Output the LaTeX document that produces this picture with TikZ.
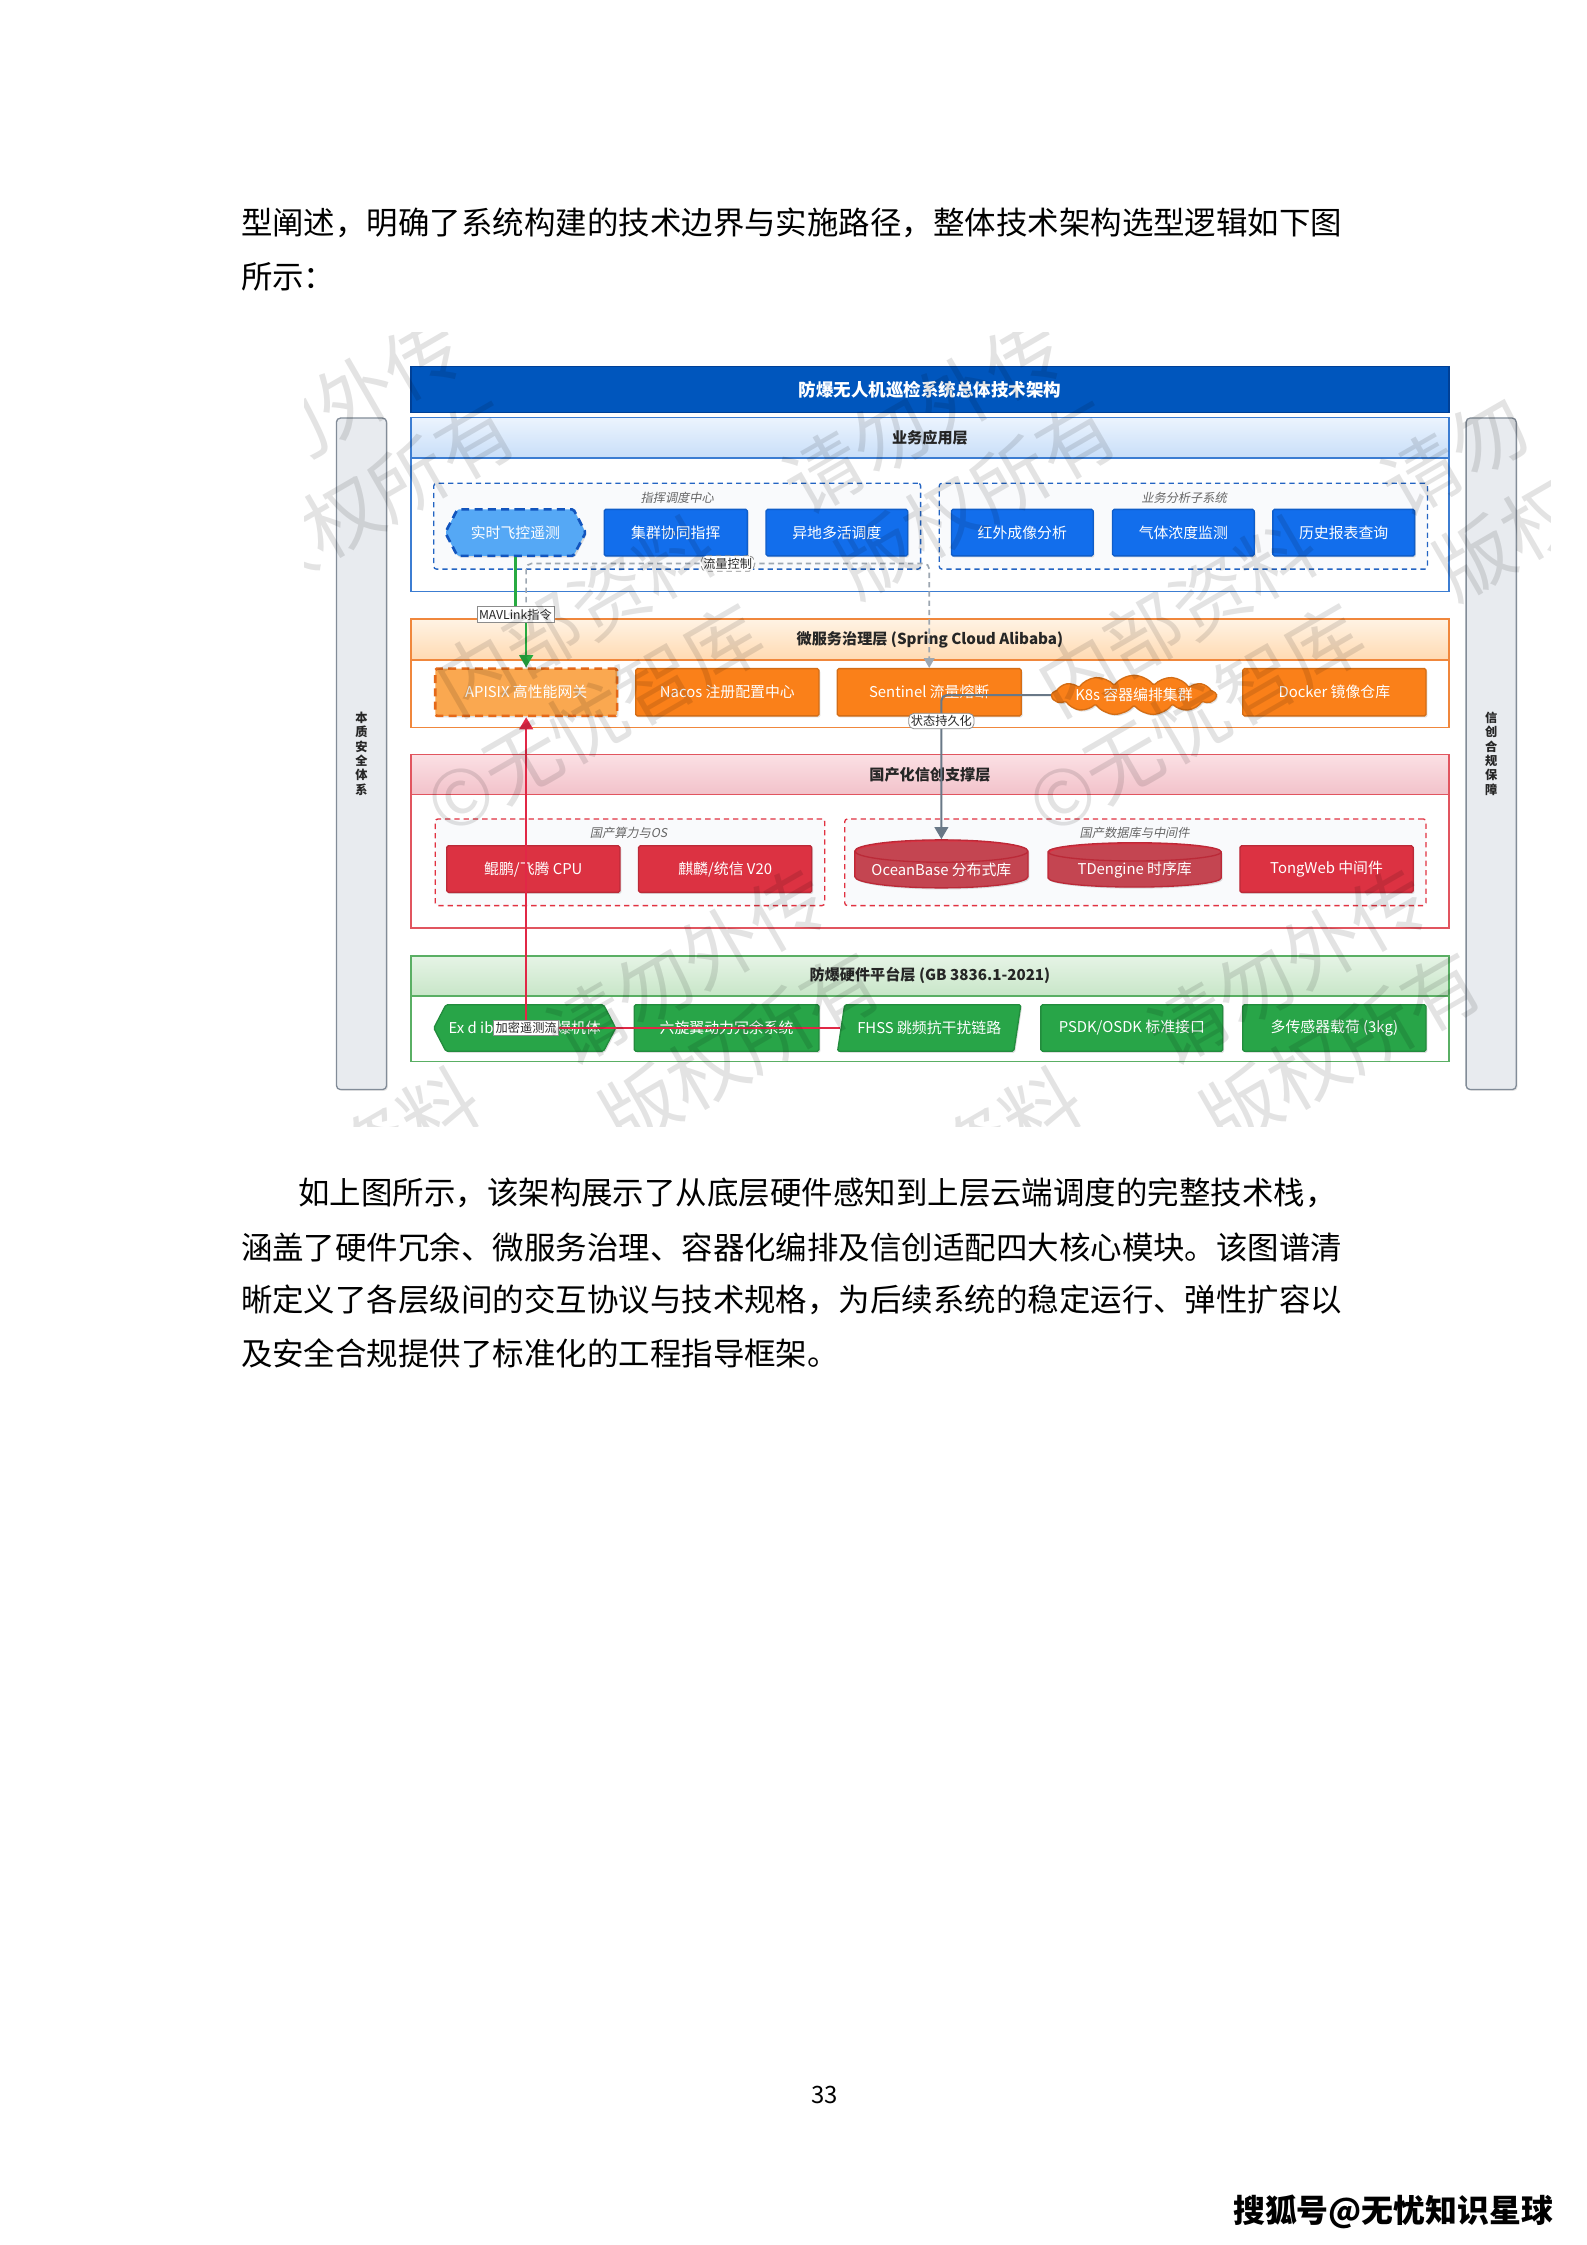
\documentclass[tikz,border=0pt]{standalone}
\usepackage{fontspec}
\setmainfont{Noto Sans CJK SC}
\setsansfont{Noto Sans CJK SC}
\newfontfamily\cjkit[FakeSlant=0.2]{Noto Sans CJK SC}
\usepackage{tikz}
\usetikzlibrary{positioning,arrows.meta,shapes.symbols,shapes.geometric,shadows}

\definecolor{titleBlue}{RGB}{0,86,189}
\definecolor{titleLine}{RGB}{0,64,150}
\definecolor{barFill}{RGB}{232,235,239}
\definecolor{barLine}{RGB}{130,140,152}
\definecolor{appLine}{RGB}{60,125,210}
\definecolor{appTop}{RGB}{236,244,254}
\definecolor{appBot}{RGB}{200,222,248}
\definecolor{appBlue}{RGB}{18,110,236}
\definecolor{telBlue}{RGB}{85,168,245}
\definecolor{telLine}{RGB}{18,85,190}
\definecolor{grpBlue}{RGB}{35,100,195}
\definecolor{svcLine}{RGB}{240,135,60}
\definecolor{svcTop}{RGB}{255,243,228}
\definecolor{svcBot}{RGB}{255,218,178}
\definecolor{svcOrange}{RGB}{250,128,25}
\definecolor{gwOrange}{RGB}{250,168,80}
\definecolor{gwLine}{RGB}{228,105,25}
\definecolor{xcLine}{RGB}{225,85,95}
\definecolor{xcTop}{RGB}{251,224,228}
\definecolor{xcBot}{RGB}{242,194,202}
\definecolor{xcRed}{RGB}{220,50,66}
\definecolor{grpRed}{RGB}{225,50,65}
\definecolor{hwLine}{RGB}{90,175,100}
\definecolor{hwTop}{RGB}{230,244,230}
\definecolor{hwBot}{RGB}{200,230,200}
\definecolor{hwGreen}{RGB}{40,165,72}
\definecolor{grpFill}{RGB}{249,250,252}
\definecolor{linkGreen}{RGB}{40,170,65}
\definecolor{linkGray}{RGB}{105,120,135}
\definecolor{linkRed}{RGB}{225,40,70}

\newcommand{\pxu}{0.18953mm}

\tikzset{
  sz/.style 2 args={minimum width=#1*\pxu, minimum height=#2*\pxu},
  bodytext/.style={anchor=west, inner sep=0pt, font=\fontsize{11.85}{14}\selectfont},
  titlebar/.style={rectangle, fill=titleBlue, draw=titleLine, line width=0.5pt, text=white,
    font=\bfseries\fontsize{6.6}{7}\selectfont, inner sep=0pt},
  sidebar/.style={rectangle, rounded corners=1.5pt, fill=barFill, draw=barLine, line width=0.5pt,
    font=\bfseries\fontsize{4.6}{5.4}\selectfont, text=black!85, align=center, inner sep=0pt,
    drop shadow={shadow xshift=0.5pt, shadow yshift=-0.5pt, opacity=0.2}},
  layerbox/.style={rectangle, draw=#1, fill=white, line width=0.6pt, inner sep=0pt},
  layerhead/.style n args={3}{rectangle, top color=#1, bottom color=#2, draw=#3, line width=0.6pt,
    font=\bfseries\fontsize{5.7}{6}\selectfont, text=black!85, inner sep=0pt},
  groupbox/.style={rectangle, rounded corners=1pt, draw=#1, dash pattern=on 2pt off 1.5pt,
    line width=0.5pt, fill=grpFill, inner sep=0pt},
  grouplabel/.style={font=\cjkit\fontsize{4.6}{5}\selectfont, text=black!60, inner sep=0pt},
  comp/.style={rectangle, rounded corners=0.6pt, fill=#1, draw=#1!85!black, line width=0.5pt,
    text=white, font=\fontsize{5.6}{6}\selectfont, inner sep=0pt,
    drop shadow={shadow xshift=0.5pt, shadow yshift=-0.6pt, opacity=0.25}},
  hexcomp/.style={comp=#1, signal, signal to=west and east, signal pointer angle=125},
  dbcyl/.style={cylinder, shape border rotate=90, aspect=0.16, cylinder uses custom fill,
    cylinder body fill=xcRed, cylinder end fill=xcRed, draw=xcRed!85!black, line width=0.5pt,
    text=white, font=\fontsize{5.6}{6}\selectfont, inner sep=0pt,
    drop shadow={shadow xshift=0.5pt, shadow yshift=-0.6pt, opacity=0.25}},
  edgelabel/.style={fill=white, draw=black!45, line width=0.3pt, inner sep=0.8pt,
    font=\fontsize{4.6}{5}\selectfont, text=black!85},
  cmdflow/.style={draw=linkGreen, line width=0.8pt, -{Triangle[length=1.6mm,width=1.8mm]}},
  ctrlflow/.style={draw=linkGray!65, line width=0.6pt, dash pattern=on 2pt off 1.5pt,
    rounded corners=2pt, -{Triangle[length=1.3mm,width=1.4mm]}},
  persistflow/.style={draw=linkGray, line width=0.8pt, rounded corners=2pt,
    -{Triangle[length=1.6mm,width=1.8mm]}},
  teleflow/.style={draw=linkRed, line width=0.8pt, -{Triangle[length=1.6mm,width=1.8mm]}},
  wmark/.style={font=\fontsize{29}{29}\selectfont, text=black, text opacity=0.11, inner sep=0pt, rotate=30},
}

\begin{document}
\begin{tikzpicture}[x=0.18953mm,y=-0.18953mm]
\useasboundingbox[fill=white] (0,0) rectangle (1108,1568);

% page text
\node[bodytext] (p1a) at (168,156) {型阐述，明确了系统构建的技术边界与实施路径，整体技术架构选型逻辑如下图};
\node[bodytext] (p1b) at (168,193) {所示：};

% title and side bars
\node[titlebar, sz={725}{32}] (title) at (649.5,272) {防爆无人机巡检系统总体技术架构};
\node[sidebar, sz={35}{469}] (safeBar) at (252.5,526.5) {本\\质\\安\\全\\体\\系};
\node[sidebar, sz={35}{469}] (xcBar) at (1041.5,526.5) {信\\创\\合\\规\\保\\障};

% 业务应用层
\node[layerbox=appLine, sz={725}{121.5}] (layApp) at (649.5,352.25) {};
\node[layerhead={appTop}{appBot}{appLine}, sz={725}{28.5}] (appHead) at (649.5,305.75) {业务应用层};
\node[groupbox=grpBlue, sz={340}{60}] (cmdGrp) at (473,367.5) {};
\node[groupbox=grpBlue, sz={341}{60}] (anaGrp) at (826.5,367.5) {};
\node[grouplabel] (cmdLbl) at (473,348) {指挥调度中心};
\node[grouplabel] (anaLbl) at (827,348) {业务分析子系统};
\node[hexcomp=telBlue, draw=telLine, line width=1pt, dash pattern=on 3pt off 2pt, sz={98}{32.5}] (rtTel) at (360,372) {实时飞控遥测};
\node[comp=appBlue, sz={100}{32.5}] (swarm) at (472,372) {集群协同指挥};
\node[comp=appBlue, sz={99}{32.5}] (geoSched) at (584.5,372) {异地多活调度};
\node[comp=appBlue, sz={99}{32.5}] (irImg) at (714,372) {红外成像分析};
\node[comp=appBlue, sz={99}{32.5}] (gasMon) at (826.5,372) {气体浓度监测};
\node[comp=appBlue, sz={99}{32.5}] (report) at (938.5,372) {历史报表查询};

% 微服务治理层
\node[layerbox=svcLine, sz={725}{75.5}] (laySvc) at (649.5,470.25) {};
\node[layerhead={svcTop}{svcBot}{svcLine}, sz={725}{28.5}] (svcHead) at (649.5,446.75) {微服务治理层 (Spring Cloud Alibaba)};
\node[comp=gwOrange, draw=gwLine, line width=1pt, dash pattern=on 3pt off 2pt, sz={127}{33}] (apisix) at (367.5,483.5) {APISIX 高性能网关};
\node[comp=svcOrange, sz={128}{33}] (nacos) at (508,483.5) {Nacos 注册配置中心};
\node[comp=svcOrange, sz={128.5}{33}] (sentinel) at (649,483.5) {Sentinel 流量熔断};
\node[comp=svcOrange, cloud, cloud puffs=13, cloud puff arc=110, cloud ignores aspect, sz={112}{24}] (k8s) at (792,485.5) {K8s 容器编排集群};
\node[comp=svcOrange, sz={128}{33}] (docker) at (932,483.5) {Docker 镜像仓库};

% 国产化信创支撑层
\node[layerbox=xcLine, sz={725}{121}] (layXc) at (649.5,587.5) {};
\node[layerhead={xcTop}{xcBot}{xcLine}, sz={725}{28}] (xcHead) at (649.5,541) {国产化信创支撑层};
\node[groupbox=grpRed, sz={272}{60.5}] (cpuGrp) at (440,602.25) {};
\node[groupbox=grpRed, sz={406}{60.5}] (dbGrp) at (793,602.25) {};
\node[grouplabel] (cpuLbl) at (439,582) {国产算力与OS};
\node[grouplabel] (dbLbl) at (792.5,582) {国产数据库与中间件};
\node[comp=xcRed, sz={121}{32.5}] (kunpeng) at (372.5,607) {鲲鹏/飞腾 CPU};
\node[comp=xcRed, sz={121}{32.5}] (kylin) at (506.5,607) {麒麟/统信 V20};
\node[dbcyl, sz={121}{27}] (oceanbase) at (657.5,607.5) {OceanBase 分布式库};
\node[dbcyl, sz={121}{27}] (tdengine) at (792.5,607.5) {TDengine 时序库};
\node[comp=xcRed, sz={121}{32.5}] (tongweb) at (926.5,607) {TongWeb 中间件};

% 防爆硬件平台层
\node[layerbox=hwLine, sz={725}{74}] (layHw) at (649.5,704.5) {};
\node[layerhead={hwTop}{hwBot}{hwLine}, sz={725}{28}] (hwHead) at (649.5,681.5) {防爆硬件平台层 (GB 3836.1-2021)};
\node[hexcomp=hwGreen, sz={127}{32.5}] (exBody) at (366.5,718) {Ex d ib 本安型隔爆机体};
\node[comp=hwGreen, sz={129}{32.5}] (rotor) at (507.5,718) {六旋翼动力冗余系统};
\node[comp=hwGreen, trapezium, trapezium left angle=63, trapezium right angle=117, trapezium stretches body, sz={128}{32.5}] (fhss) at (649,718) {FHSS 跳频抗干扰链路};
\node[comp=hwGreen, sz={127}{32.5}] (psdk) at (790.5,718) {PSDK/OSDK 标准接口};
\node[comp=hwGreen, sz={128}{32.5}] (payload) at (932,718) {多传感器载荷 (3kg)};

% connectors
\draw[ctrlflow] (apisix.north) -- ++(0,-72.5) -| node[edgelabel, pos=0.25] (flowLbl) {流量控制} (sentinel.north);
\draw[cmdflow] (rtTel.south) -- ++(0,40) node[edgelabel] (mavLbl) {MAVLink指令} -| (apisix.north);
\draw[persistflow] (k8s.west) -| node[edgelabel, pos=0.59] (stateLbl) {状态持久化} (oceanbase.north);
\draw[teleflow] (fhss.west) -| node[edgelabel] (teleLbl) {加密遥测流} (apisix.south);

% watermark
\begin{scope}
\clip (213,232) rectangle (1083,787);
\node[wmark] (wm1) at (225,290) {请勿外传};
\node[wmark] (wm2) at (262,348) {版权所有};
\node[wmark] (wm3) at (645,290) {请勿外传};
\node[wmark] (wm4) at (402,430) {内部资料};
\node[wmark] (wm5) at (682,348) {版权所有};
\node[wmark] (wm6) at (415,502) {©无忧智库};
\node[wmark] (wm7) at (1016,318) {请勿};
\node[wmark] (wm8) at (822,430) {内部资料};
\node[wmark] (wm9) at (1053,376) {版权};
\node[wmark] (wm10) at (835,502) {©无忧智库};
\node[wmark] (wm11) at (480,675) {请勿外传};
\node[wmark] (wm12) at (237,815) {内部资料};
\node[wmark] (wm13) at (517,733) {版权所有};
\node[wmark] (wm14) at (900,675) {请勿外传};
\node[wmark] (wm15) at (657,815) {内部资料};
\node[wmark] (wm16) at (937,733) {版权所有};
\end{scope}

\node[bodytext] (p2a) at (208,833) {如上图所示，该架构展示了从底层硬件感知到上层云端调度的完整技术栈，};
\node[bodytext] (p2b) at (168,871) {涵盖了硬件冗余、微服务治理、容器化编排及信创适配四大核心模块。该图谱清};
\node[bodytext] (p2c) at (168,908) {晰定义了各层级间的交互协议与技术规格，为后续系统的稳定运行、弹性扩容以};
\node[bodytext] (p2d) at (168,945) {及安全合规提供了标准化的工程指导框架。};

\node[font=\fontsize{9}{10}\selectfont, inner sep=0pt] (pageNo) at (576,1463) {33};
\node[font=\bfseries\fontsize{12}{13}\selectfont, inner sep=0pt] (sohu) at (973,1545) {搜狐号@无忧知识星球};
\end{tikzpicture}
\end{document}
